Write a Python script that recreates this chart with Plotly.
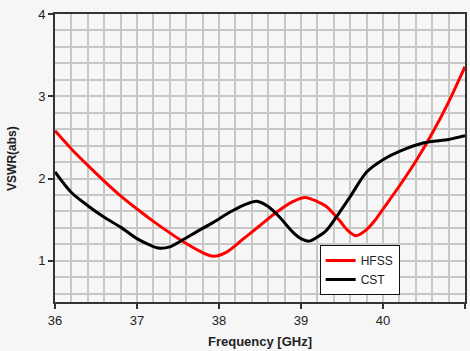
import plotly.graph_objects as go

hfss_f = [36.0, 36.2, 36.4, 36.6, 36.8, 37.0, 37.2, 37.4, 37.6, 37.8, 37.93, 38.1, 38.3, 38.5, 38.7, 38.9,
          39.05, 39.2, 39.31, 39.47, 39.57, 39.67, 39.8, 39.9, 40.0, 40.2, 40.4, 40.6, 40.8, 41.0]
hfss_v = [2.58, 2.36, 2.16, 1.97, 1.79, 1.63, 1.48, 1.34, 1.21, 1.10, 1.057, 1.11, 1.27, 1.43, 1.59, 1.72,
          1.77, 1.72, 1.66, 1.49, 1.37, 1.306, 1.38, 1.49, 1.63, 1.91, 2.21, 2.55, 2.93, 3.36]

cst_f = [36.0, 36.2, 36.4, 36.6, 36.8, 37.0, 37.16, 37.26, 37.4, 37.54, 37.73, 37.93, 38.13, 38.33, 38.46,
         38.6, 38.74, 38.9, 39.0, 39.1, 39.2, 39.31, 39.47, 39.6, 39.8, 40.0, 40.2, 40.5, 40.8, 41.0]
cst_v = [2.08, 1.83, 1.67, 1.53, 1.41, 1.27, 1.19, 1.155, 1.17, 1.245, 1.355, 1.468, 1.59, 1.69, 1.725,
         1.66, 1.53, 1.35, 1.27, 1.24, 1.29, 1.37, 1.59, 1.78, 2.08, 2.23, 2.33, 2.435, 2.475, 2.52]

x_ticks = [36, 37, 38, 39, 40, 41]
y_ticks = [1, 2, 3, 4]

fig = go.Figure()
fig.add_trace(go.Scatter(x=hfss_f, y=hfss_v, mode="lines", name="HFSS",
                         line=dict(color="#ff0000", width=3, shape="spline", smoothing=0.8)))
fig.add_trace(go.Scatter(x=cst_f, y=cst_v, mode="lines", name="CST",
                         line=dict(color="#000000", width=3, shape="spline", smoothing=0.8)))

fam = "Liberation Sans, Arial, sans-serif"
font = dict(family=fam, size=12, color="#222222")
axis_common = dict(
    showline=True, linecolor="#333333", linewidth=2, mirror=True,
    ticks="outside", ticklen=5, tickcolor="#333333", tickwidth=1.5,
    showgrid=True, gridcolor="#c8c8c8", gridwidth=1.5,
    zeroline=False, tickfont=dict(family=fam, size=13, color="#222222"),
    automargin=False,
    minor=dict(dtick=0.2, showgrid=True, gridcolor="#c8c8c8", gridwidth=1.5, ticks=""),
)
fig.update_xaxes(range=[36, 41], tickvals=x_ticks, ticktext=[str(t) for t in x_ticks], **axis_common)
fig.update_yaxes(range=[0.5, 4], tickvals=y_ticks, ticktext=[str(t) for t in y_ticks], **axis_common)

fig.add_annotation(text="<b>Frequency [GHz]</b>", xref="paper", yref="paper",
                   x=0.5, y=-0.136, xanchor="center", yanchor="middle", showarrow=False,
                   font=dict(family=fam, size=13, color="#222222"))
fig.add_annotation(text="<b>VSWR(abs)</b>", xref="paper", yref="paper",
                   x=-0.105, y=0.5, xanchor="center", yanchor="middle", textangle=-90, showarrow=False,
                   font=dict(family=fam, size=12, color="#222222"))

fig.update_layout(
    width=470, height=351,
    margin=dict(l=55, r=5, t=14, b=49),
    paper_bgcolor="#f6f6f6", plot_bgcolor="#f7f7f7",
    font=font,
    showlegend=True,
    legend=dict(x=0.6455, y=0.198, xanchor="left", yanchor="top",
                bgcolor="#ffffff", bordercolor="#111111", borderwidth=1,
                font=dict(family=fam, size=12, color="#222"),
                tracegroupgap=0, itemwidth=30),
)
fig.write_html("out.html", config={"displayModeBar": False},
               post_script="document.body.style.margin='0';document.body.style.padding='0';")
